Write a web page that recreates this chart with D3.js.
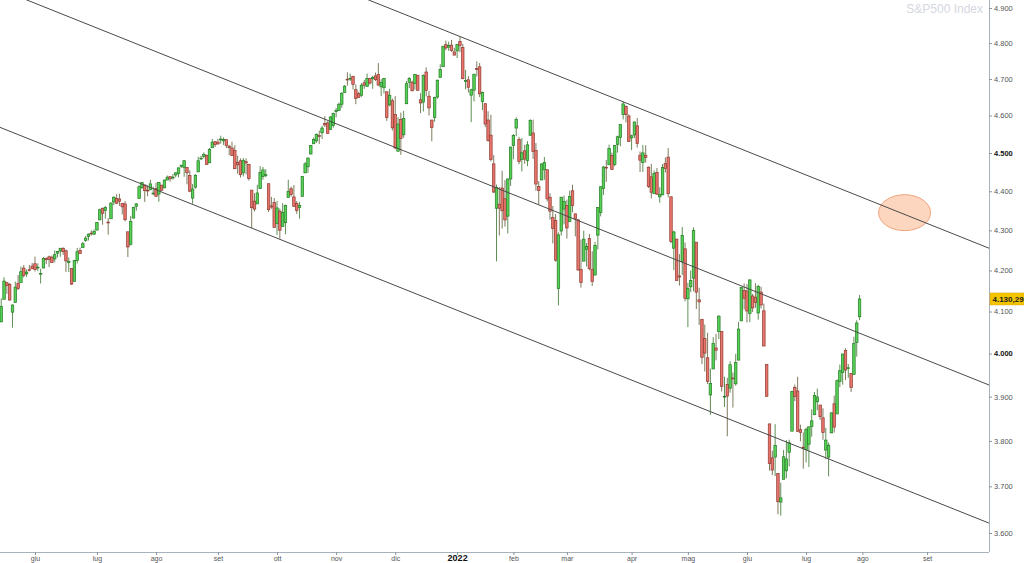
<!DOCTYPE html>
<html><head><meta charset="utf-8">
<script src="https://cdn.jsdelivr.net/npm/d3@7"></script>
<style>body{margin:0;background:#fff}svg{display:block;font-family:"Liberation Sans",Arial,sans-serif}</style>
</head><body>
<svg id="c" width="1024" height="563"></svg>
<script>
// ---- DATA (S&P500 daily candles) ----
const dates = [
"2021-05-13","2021-05-14","2021-05-17","2021-05-18","2021-05-19","2021-05-20","2021-05-21","2021-05-24","2021-05-25","2021-05-26","2021-05-27","2021-05-28",
"2021-06-01","2021-06-02","2021-06-03","2021-06-04","2021-06-07","2021-06-08","2021-06-09","2021-06-10","2021-06-11","2021-06-14","2021-06-15","2021-06-16","2021-06-17","2021-06-18","2021-06-21","2021-06-22","2021-06-23","2021-06-24","2021-06-25","2021-06-28","2021-06-29","2021-06-30",
"2021-07-01","2021-07-02","2021-07-06","2021-07-07","2021-07-08","2021-07-09","2021-07-12","2021-07-13","2021-07-14","2021-07-15","2021-07-16","2021-07-19","2021-07-20","2021-07-21","2021-07-22","2021-07-23","2021-07-26","2021-07-27","2021-07-28","2021-07-29","2021-07-30",
"2021-08-02","2021-08-03","2021-08-04","2021-08-05","2021-08-06","2021-08-09","2021-08-10","2021-08-11","2021-08-12","2021-08-13","2021-08-16","2021-08-17","2021-08-18","2021-08-19","2021-08-20","2021-08-23","2021-08-24","2021-08-25","2021-08-26","2021-08-27","2021-08-30","2021-08-31",
"2021-09-01","2021-09-02","2021-09-03","2021-09-07","2021-09-08","2021-09-09","2021-09-10","2021-09-13","2021-09-14","2021-09-15","2021-09-16","2021-09-17","2021-09-20","2021-09-21","2021-09-22","2021-09-23","2021-09-24","2021-09-27","2021-09-28","2021-09-29","2021-09-30",
"2021-10-01","2021-10-04","2021-10-05","2021-10-06","2021-10-07","2021-10-08","2021-10-11","2021-10-12","2021-10-13","2021-10-14","2021-10-15","2021-10-18","2021-10-19","2021-10-20","2021-10-21","2021-10-22","2021-10-25","2021-10-26","2021-10-27","2021-10-28","2021-10-29",
"2021-11-01","2021-11-02","2021-11-03","2021-11-04","2021-11-05","2021-11-08","2021-11-09","2021-11-10","2021-11-11","2021-11-12","2021-11-15","2021-11-16","2021-11-17","2021-11-18","2021-11-19","2021-11-22","2021-11-23","2021-11-24","2021-11-26","2021-11-29","2021-11-30",
"2021-12-01","2021-12-02","2021-12-03","2021-12-06","2021-12-07","2021-12-08","2021-12-09","2021-12-10","2021-12-13","2021-12-14","2021-12-15","2021-12-16","2021-12-17","2021-12-20","2021-12-21","2021-12-22","2021-12-23","2021-12-27","2021-12-28","2021-12-29","2021-12-30","2021-12-31",
"2022-01-03","2022-01-04","2022-01-05","2022-01-06","2022-01-07","2022-01-10","2022-01-11","2022-01-12","2022-01-13","2022-01-14","2022-01-18","2022-01-19","2022-01-20","2022-01-21","2022-01-24","2022-01-25","2022-01-26","2022-01-27","2022-01-28","2022-01-31",
"2022-02-01","2022-02-02","2022-02-03","2022-02-04","2022-02-07","2022-02-08","2022-02-09","2022-02-10","2022-02-11","2022-02-14","2022-02-15","2022-02-16","2022-02-17","2022-02-18","2022-02-22","2022-02-23","2022-02-24","2022-02-25","2022-02-28",
"2022-03-01","2022-03-02","2022-03-03","2022-03-04","2022-03-07","2022-03-08","2022-03-09","2022-03-10","2022-03-11","2022-03-14","2022-03-15","2022-03-16","2022-03-17","2022-03-18","2022-03-21","2022-03-22","2022-03-23","2022-03-24","2022-03-25","2022-03-28","2022-03-29","2022-03-30","2022-03-31",
"2022-04-01","2022-04-04","2022-04-05","2022-04-06","2022-04-07","2022-04-08","2022-04-11","2022-04-12","2022-04-13","2022-04-14","2022-04-18","2022-04-19","2022-04-20","2022-04-21","2022-04-22","2022-04-25","2022-04-26","2022-04-27","2022-04-28","2022-04-29",
"2022-05-02","2022-05-03","2022-05-04","2022-05-05","2022-05-06","2022-05-09","2022-05-10","2022-05-11","2022-05-12","2022-05-13","2022-05-16","2022-05-17","2022-05-18","2022-05-19","2022-05-20","2022-05-23","2022-05-24","2022-05-25","2022-05-26","2022-05-27","2022-05-31",
"2022-06-01","2022-06-02","2022-06-03","2022-06-06","2022-06-07","2022-06-08","2022-06-09","2022-06-10","2022-06-13","2022-06-14","2022-06-15","2022-06-16","2022-06-17","2022-06-21","2022-06-22","2022-06-23","2022-06-24","2022-06-27","2022-06-28","2022-06-29","2022-06-30",
"2022-07-01","2022-07-05","2022-07-06","2022-07-07","2022-07-08","2022-07-11","2022-07-12","2022-07-13","2022-07-14","2022-07-15","2022-07-18","2022-07-19","2022-07-20","2022-07-21","2022-07-22","2022-07-25","2022-07-26","2022-07-27","2022-07-28","2022-07-29"
];
const opens = [
4074.99,4129.58,4169.92,4165.94,4098.45,4121.97,4168.61,4170.16,4205.94,4191.59,4201.94,4210.77,
4216.52,4206.82,4191.43,4206.05,4229.34,4233.81,4232.99,4228.56,4242.90,4248.31,4255.28,4248.87,4220.37,4204.78,4173.40,4224.61,4249.27,4256.97,4274.45,4284.90,4293.21,4290.65,
4300.73,4326.60,4356.46,4351.01,4321.07,4329.38,4372.41,4381.07,4380.11,4369.02,4367.43,4296.40,4265.11,4331.13,4361.27,4381.20,4409.58,4416.38,4402.95,4403.59,4395.12,
4406.86,4392.74,4415.95,4408.86,4429.07,4437.77,4435.79,4442.18,4446.08,4464.84,4461.65,4462.12,4440.94,4382.44,4410.56,4450.29,4484.40,4490.45,4493.75,4474.10,4513.76,4529.75,
4528.80,4534.48,4532.42,4535.38,4518.09,4513.02,4506.92,4474.81,4479.33,4447.49,4477.09,4469.74,4402.95,4374.45,4367.43,4406.75,4438.04,4442.12,4419.54,4362.41,4370.67,
4317.16,4348.84,4309.87,4319.57,4383.73,4406.51,4385.44,4368.31,4358.01,4386.75,4447.69,4463.72,4497.34,4524.42,4532.24,4546.12,4553.69,4578.69,4580.22,4562.84,4572.87,
4610.62,4613.34,4630.65,4662.93,4699.26,4701.48,4707.25,4670.26,4659.39,4655.24,4689.30,4679.42,4701.50,4700.72,4708.44,4712.00,4678.48,4675.78,4664.63,4628.75,4640.25,
4602.82,4504.73,4589.49,4548.37,4631.97,4690.86,4691.00,4687.64,4710.30,4642.99,4636.46,4719.13,4652.50,4587.90,4594.96,4650.36,4703.96,4733.99,4795.49,4788.64,4794.23,4775.21,
4778.14,4804.51,4787.99,4693.39,4697.66,4655.34,4669.14,4728.59,4733.56,4637.99,4632.24,4588.03,4547.35,4471.38,4356.32,4366.64,4408.43,4380.58,4336.19,4431.79,
4519.57,4566.39,4535.41,4482.79,4505.75,4480.02,4547.00,4553.24,4506.27,4412.61,4429.28,4455.75,4456.06,4384.57,4332.74,4324.93,4155.77,4298.38,4354.17,
4363.14,4322.56,4401.31,4342.12,4327.01,4202.66,4223.10,4252.55,4279.50,4202.75,4188.82,4288.14,4345.11,4407.34,4462.40,4469.10,4493.10,4469.98,4522.91,4541.09,4602.86,4624.20,4599.02,
4540.32,4547.97,4572.45,4494.17,4474.65,4494.15,4462.64,4437.59,4394.30,4449.12,4385.63,4390.63,4472.26,4489.17,4385.83,4255.34,4278.14,4186.52,4222.58,4253.75,
4130.61,4159.78,4181.18,4270.43,4128.17,4081.27,4035.18,3990.08,3903.95,3963.90,4013.02,4052.00,4051.98,3899.00,3927.76,3919.42,3942.94,3929.59,3984.60,4077.43,4151.09,
4149.78,4095.41,4137.57,4134.72,4096.47,4147.12,4101.65,3974.39,3838.15,3762.52,3764.05,3728.18,3665.90,3715.31,3733.89,3774.71,3821.75,3920.76,3913.00,3825.09,3785.99,
3781.00,3792.61,3831.98,3858.85,3888.26,3880.94,3851.95,3779.67,3763.99,3818.00,3883.79,3860.73,3935.32,3955.47,4007.20,3965.72,3953.22,3951.43,4026.13,4087.33
];
const highs = [
4131.58,4183.13,4171.92,4169.15,4116.93,4172.80,4188.72,4209.52,4213.42,4202.61,4213.38,4218.36,
4234.12,4217.37,4204.39,4233.45,4232.34,4236.74,4237.09,4249.74,4248.38,4255.59,4257.16,4251.89,4232.29,4204.78,4226.24,4255.84,4256.60,4271.28,4286.12,4292.14,4300.52,4302.43,
4320.66,4355.43,4356.46,4361.88,4330.88,4371.60,4386.68,4392.37,4393.68,4369.02,4375.09,4296.40,4336.84,4359.70,4369.87,4415.18,4422.73,4416.38,4415.47,4429.97,4412.25,
4422.18,4423.79,4416.17,4429.76,4440.82,4439.39,4445.21,4449.44,4461.77,4468.37,4480.26,4462.12,4454.32,4418.61,4444.35,4489.88,4492.81,4501.71,4495.90,4513.33,4537.36,4531.39,
4537.11,4545.85,4541.45,4535.38,4521.79,4529.90,4520.47,4492.99,4485.68,4486.87,4485.87,4471.52,4402.95,4394.87,4416.75,4465.40,4463.12,4457.30,4419.54,4385.57,4382.55,
4375.19,4355.51,4369.23,4365.57,4429.97,4412.02,4415.88,4374.89,4372.87,4439.73,4475.82,4488.75,4520.40,4540.87,4551.44,4559.67,4572.62,4598.53,4584.57,4597.55,4608.08,
4620.34,4635.15,4663.46,4683.00,4718.50,4714.92,4708.53,4684.85,4664.55,4688.47,4697.42,4714.95,4701.50,4708.80,4717.75,4743.83,4699.39,4702.87,4664.63,4672.95,4646.02,
4652.94,4595.46,4608.03,4612.60,4694.04,4705.06,4695.26,4713.57,4710.30,4660.47,4712.60,4731.99,4666.70,4587.90,4651.14,4697.67,4740.74,4791.49,4807.02,4804.06,4808.93,4786.83,
4796.64,4818.62,4797.70,4725.01,4707.95,4673.02,4714.13,4748.83,4744.13,4665.13,4632.24,4611.55,4602.11,4494.52,4417.35,4411.01,4453.23,4428.74,4432.72,4516.89,
4550.49,4595.31,4542.88,4539.66,4521.86,4531.32,4590.03,4588.92,4526.33,4426.22,4472.77,4489.55,4456.06,4394.60,4362.12,4341.51,4294.73,4385.34,4388.84,
4378.45,4401.48,4416.78,4342.12,4327.01,4276.94,4299.40,4268.28,4291.01,4247.57,4271.05,4358.90,4412.67,4465.40,4481.75,4522.00,4501.07,4520.58,4546.03,4575.65,4637.30,4627.77,4603.07,
4548.70,4583.50,4593.45,4503.94,4521.16,4520.41,4464.35,4471.00,4453.92,4460.46,4410.31,4471.03,4488.29,4512.94,4385.83,4299.02,4278.14,4240.71,4308.45,4269.68,
4169.81,4200.10,4307.66,4270.43,4157.69,4081.27,4068.82,4049.09,3964.80,4038.88,4046.46,4090.72,4051.98,3945.96,3943.42,3981.88,3955.68,3999.33,4075.14,4158.49,4168.34,
4166.54,4177.51,4142.67,4168.78,4164.86,4160.14,4119.10,3974.39,3838.15,3778.18,3837.56,3728.18,3707.71,3779.65,3801.79,3802.58,3913.65,3927.72,3945.86,3836.50,3818.99,
3829.82,3832.19,3870.91,3910.63,3918.50,3880.94,3873.41,3829.44,3796.41,3863.62,3902.44,3939.81,3974.13,3999.29,4012.44,3975.30,3953.22,4039.56,4078.95,4140.15
];
const lows = [
4074.99,4129.58,4142.69,4125.99,4061.41,4121.97,4151.72,4170.16,4182.52,4184.11,4197.78,4203.57,
4197.59,4198.27,4167.93,4206.05,4215.66,4208.41,4218.74,4220.34,4232.25,4234.07,4238.35,4195.99,4196.05,4164.40,4173.40,4217.27,4241.43,4256.97,4271.16,4274.67,4287.04,4287.96,
4300.73,4326.60,4314.37,4329.79,4289.37,4329.38,4364.03,4366.92,4362.36,4340.70,4322.53,4233.13,4262.05,4331.13,4350.06,4381.20,4405.45,4372.51,4387.01,4403.59,4389.65,
4384.81,4373.00,4400.23,4408.86,4429.07,4424.74,4430.03,4436.42,4435.96,4460.82,4437.66,4417.83,4397.59,4367.73,4406.80,4450.29,4482.28,4485.66,4468.99,4474.10,4513.76,4515.80,
4522.02,4524.66,4521.29,4513.00,4493.95,4492.07,4457.66,4445.70,4435.46,4438.37,4443.80,4427.76,4305.91,4347.96,4367.43,4406.75,4430.27,4436.19,4346.33,4355.08,4306.24,
4288.52,4278.94,4309.87,4290.49,4383.73,4386.22,4360.59,4342.09,4329.92,4386.75,4447.69,4447.47,4496.41,4524.40,4526.89,4524.00,4537.36,4569.17,4551.66,4562.84,4567.59,
4595.06,4613.34,4621.19,4662.59,4681.32,4694.39,4670.87,4630.86,4648.31,4650.77,4672.86,4679.42,4684.41,4672.78,4694.22,4682.17,4652.66,4659.89,4585.43,4625.26,4560.00,
4510.27,4504.73,4495.12,4540.51,4631.97,4674.52,4665.98,4670.24,4667.60,4606.52,4611.22,4651.89,4600.22,4531.10,4583.16,4645.53,4703.96,4733.99,4780.04,4778.08,4775.33,4765.75,
4758.17,4774.27,4699.44,4671.26,4662.74,4582.24,4638.27,4706.71,4650.29,4614.75,4568.70,4530.20,4477.95,4395.34,4222.62,4287.11,4304.80,4309.50,4292.46,4414.02,
4483.53,4544.32,4470.39,4451.50,4471.47,4465.40,4547.00,4484.31,4401.41,4364.84,4429.28,4429.68,4373.81,4327.22,4267.11,4221.51,4114.65,4286.83,4315.12,
4279.54,4322.56,4345.56,4284.98,4199.85,4157.87,4223.10,4209.80,4200.49,4161.72,4187.90,4251.99,4335.65,4390.57,4424.30,4469.10,4455.81,4465.17,4501.07,4517.69,4589.66,4581.32,4530.41,
4507.57,4539.21,4514.17,4450.04,4450.30,4474.60,4408.38,4381.34,4392.70,4390.77,4370.30,4390.63,4448.76,4384.47,4267.62,4200.82,4175.04,4162.90,4188.63,4124.28,
4062.51,4147.08,4148.91,4106.01,4067.91,3975.48,3958.17,3928.82,3858.87,3963.90,3983.99,4033.93,3911.91,3876.58,3810.32,3909.04,3875.13,3925.03,3984.60,4077.43,4104.88,
4073.85,4074.37,4098.67,4109.18,4080.19,4107.20,4017.17,3900.16,3734.30,3724.56,3722.30,3639.77,3636.87,3715.31,3717.69,3743.52,3821.75,3889.66,3820.14,3799.02,3738.67,
3752.10,3742.06,3809.37,3858.85,3869.34,3847.22,3802.36,3759.07,3721.56,3817.18,3818.63,3860.73,3922.03,3927.64,3938.24,3943.46,3910.74,3951.43,3992.97,4079.22
];
const closes = [
4112.50,4173.85,4163.29,4127.83,4115.68,4159.12,4155.86,4197.05,4188.13,4195.99,4200.88,4204.11,
4202.04,4208.12,4192.85,4229.89,4226.52,4227.26,4219.55,4239.18,4247.44,4255.15,4246.59,4223.70,4221.86,4166.45,4224.79,4246.44,4241.84,4266.49,4280.70,4290.61,4291.80,4297.50,
4319.94,4352.34,4343.54,4358.13,4320.82,4369.55,4384.63,4369.21,4374.30,4360.03,4327.16,4258.49,4323.06,4358.69,4367.48,4411.79,4422.30,4401.46,4400.64,4419.15,4395.26,
4387.16,4423.15,4402.66,4429.10,4436.52,4432.35,4436.75,4447.70,4460.83,4468.00,4479.71,4448.08,4400.27,4405.80,4441.67,4479.53,4486.23,4496.19,4470.00,4509.37,4528.79,4522.68,
4524.09,4536.95,4535.43,4520.03,4514.07,4493.28,4458.58,4468.73,4443.05,4480.70,4473.75,4432.99,4357.73,4354.19,4395.64,4448.98,4455.48,4443.11,4352.63,4359.46,4307.54,
4357.04,4300.46,4345.72,4363.55,4399.76,4391.34,4361.19,4350.65,4363.80,4438.26,4471.37,4486.46,4519.63,4536.19,4549.78,4544.90,4566.48,4574.79,4551.68,4596.42,4605.38,
4613.67,4630.65,4660.57,4680.06,4697.53,4701.70,4685.25,4646.71,4649.27,4682.85,4682.80,4700.90,4688.67,4704.54,4697.96,4682.94,4690.70,4701.46,4594.62,4655.27,4567.00,
4513.04,4577.10,4538.43,4591.67,4686.75,4701.21,4667.45,4712.02,4668.97,4634.09,4709.85,4668.67,4620.64,4568.02,4649.23,4696.56,4725.79,4791.19,4786.35,4793.06,4778.73,4766.18,
4796.56,4793.54,4700.58,4696.05,4677.03,4670.29,4713.07,4726.35,4659.03,4662.85,4577.11,4532.76,4482.73,4397.94,4410.13,4356.45,4349.93,4326.51,4431.85,4515.55,
4546.54,4589.38,4477.44,4500.53,4483.87,4521.54,4587.18,4504.08,4418.64,4401.67,4471.07,4475.01,4380.26,4348.87,4304.76,4225.50,4288.70,4384.65,4373.94,
4306.26,4386.54,4363.49,4328.87,4201.09,4170.70,4277.88,4259.52,4204.31,4173.11,4262.45,4357.86,4411.67,4463.12,4461.18,4511.61,4456.24,4520.16,4543.06,4575.52,4631.60,4602.45,4530.41,
4545.86,4582.64,4525.12,4481.15,4500.21,4488.28,4412.53,4397.45,4446.59,4392.59,4391.69,4462.21,4459.45,4393.66,4271.78,4296.12,4175.20,4183.96,4287.50,4131.93,
4155.38,4175.48,4300.17,4146.87,4123.34,3991.24,4001.05,3935.18,3930.08,4023.89,4008.01,4088.85,3923.68,3900.79,3901.36,3973.75,3941.48,3978.73,4057.84,4158.24,4132.15,
4101.23,4176.82,4108.54,4121.43,4160.68,4115.77,4017.82,3900.86,3749.63,3735.48,3789.99,3666.77,3674.84,3764.79,3759.89,3795.73,3911.74,3900.11,3821.55,3818.83,3785.38,
3825.33,3831.39,3845.08,3902.62,3899.38,3854.43,3818.80,3801.78,3790.38,3863.16,3830.85,3936.69,3959.90,3998.95,3961.63,3966.84,3921.05,4023.61,4072.43,4130.29
];
const yTicks = [3600,3700,3800,3900,4000,4100,4200,4300,4400,4500,4600,4700,4800,4900];
const yBoldTicks = [4000,4500];
const monthStarts = ["2021-06-01","2021-07-01","2021-08-02","2021-09-01","2021-10-01","2021-11-01","2021-12-01","2022-01-03","2022-02-01","2022-03-01","2022-04-01","2022-05-02","2022-06-01","2022-07-01","2022-08-01","2022-09-01"];
const monthLabels = ["giu","lug","ago","set","ott","nov","dic","2022","feb","mar","apr","mag","giu","lug","ago","set"];
const yearLabels = ["2022"];
const futureHolidays = ["2022-09-05"];
// channel: top line through two highs, the other two parallel through one anchor each
const channelTop = [["2022-01-04",4818.62],["2022-03-29",4637.30]];
const channelMid = ["2021-10-29",4581];
const channelLow = ["2021-09-20",4305.91];
const markerPoint = ["2022-08-22",4345];
const titleText = "S&P500 Index";

// ---- LAYOUT ----
const W = 1024, H = 563, plotR = 989, plotB = 552;
const parse = d3.utcParse("%Y-%m-%d"), fmtD = d3.utcFormat("%Y-%m-%d");
const it = d3.formatLocale({decimal:",", thousands:".", grouping:[3], currency:["€",""]});
const fmtTick = it.format(",.0f"), fmtPrice = it.format(",.2f");

// trading calendar: data dates + future weekdays
const cal = dates.slice();
let d = d3.utcDay.offset(parse(dates[dates.length-1]), 1);
while (cal.length < 380) {
  const s = fmtD(d), wd = d.getUTCDay();
  if (wd !== 0 && wd !== 6 && !futureHolidays.includes(s)) cal.push(s);
  d = d3.utcDay.offset(d, 1);
}
const idxOf = s => cal.findIndex(c => c >= s);

const x = d3.scaleLinear().domain([-0.44, 351.0]).range([0, plotR]);
const y = d3.scaleLog().domain([3560, 4923]).range([plotB, 0]);

const svg = d3.select("#c");
svg.append("rect").attr("width", W).attr("height", H).attr("fill", "#fff");
svg.append("defs").append("clipPath").attr("id", "clip")
  .append("rect").attr("x", 0).attr("y", 0).attr("width", plotR).attr("height", plotB);

// title
svg.append("text").attr("x", 983).attr("y", 13).attr("text-anchor", "end")
  .attr("font-size", 12).attr("fill", "#d5d7df").text(titleText);

const plot = svg.append("g").attr("clip-path", "url(#clip)");

// marker ellipse
plot.append("ellipse")
  .attr("cx", x(idxOf(markerPoint[0]))).attr("cy", y(markerPoint[1]))
  .attr("rx", 26).attr("ry", 18)
  .attr("fill", "#fcd6bf").attr("stroke", "#f0a47c").attr("stroke-width", 1);

// candles
const candles = dates.map((s, i) => ({i, o: opens[i], h: highs[i], l: lows[i], c: closes[i]}));
const bw = 2.5;
const g = plot.selectAll("g.cdl").data(candles).join("g").attr("class", "cdl");
g.append("line")
  .attr("x1", c => x(c.i)).attr("x2", c => x(c.i))
  .attr("y1", c => y(c.h)).attr("y2", c => y(c.l))
  .attr("stroke", c => c.c >= c.o ? "#5f8f55" : "#7f7a5c").attr("stroke-width", 1);
g.append("rect")
  .attr("x", c => x(c.i) - bw/2).attr("width", bw)
  .attr("y", c => y(Math.max(c.o, c.c)))
  .attr("height", c => Math.max(0.8, Math.abs(y(c.o) - y(c.c))))
  .attr("fill", c => c.c >= c.o ? "#55d155" : "#e8746b")
  .attr("stroke", c => c.c >= c.o ? "#247a24" : "#8e3a30").attr("stroke-width", 0.7);

// channel lines
const i1 = idxOf(channelTop[0][0]), i2 = idxOf(channelTop[1][0]);
const k = (Math.log(channelTop[1][1]) - Math.log(channelTop[0][1])) / (i2 - i1);
const chan = [[i1, channelTop[0][1]], [idxOf(channelMid[0]), channelMid[1]], [idxOf(channelLow[0]), channelLow[1]]];
const xd = x.domain();
const ln = d3.line().x(p => x(p[0])).y(p => y(p[1]));
chan.forEach(([ia, pa]) => {
  const pts = xd.map(i => [i, pa * Math.exp(k * (i - ia))]);
  plot.append("path").attr("d", ln(pts)).attr("fill", "none")
    .attr("stroke", "#4a4a4a").attr("stroke-width", 1);
});

// right axis
const ya = svg.append("g").attr("transform", `translate(${plotR},0)`)
  .call(d3.axisRight(y).tickValues(yTicks).tickSize(3).tickPadding(2).tickFormat(fmtTick));
ya.select(".domain").attr("stroke", "#a8b2bc").attr("d", `M0.5,0V${plotB}`);
ya.selectAll(".tick line").attr("stroke", "#8a949e");
ya.selectAll(".tick text").attr("font-size", 7.5).attr("font-family", "Liberation Sans, Arial")
  .attr("fill", v => yBoldTicks.includes(v) ? "#111" : "#555")
  .attr("font-weight", v => yBoldTicks.includes(v) ? "bold" : "normal");

// bottom axis
const monthIdx = monthStarts.map(idxOf);
const isYear = i => yearLabels.includes(monthLabels[i]);
const xa = svg.append("g").attr("transform", `translate(0,${plotB})`)
  .call(d3.axisBottom(x).tickValues(monthIdx).tickSize(3).tickPadding(1)
    .tickFormat((v, i) => monthLabels[i]));
xa.select(".domain").attr("stroke", "#a8b2bc").attr("d", `M0,0.5H${plotR}`);
xa.selectAll(".tick line").attr("stroke", "#8a949e");
xa.selectAll(".tick text").attr("font-family", "Liberation Sans, Arial")
  .attr("font-size", (v, i) => isYear(i) ? 9 : 7)
  .attr("dy", (v, i) => isYear(i) ? "0.55em" : "0.71em")
  .attr("font-weight", (v, i) => isYear(i) ? "bold" : "normal")
  .attr("fill", (v, i) => isYear(i) ? "#111" : "#555");

// last price tag
const lp = closes[closes.length - 1];
const tag = svg.append("g").attr("transform", `translate(${plotR + 1},${y(lp)})`);
tag.append("rect").attr("x", 0).attr("y", -6).attr("width", 34).attr("height", 12)
  .attr("fill", "#f3c400").attr("stroke", "#d9a900").attr("stroke-width", 0.5);
tag.append("text").attr("x", 2.5).attr("y", 3).attr("font-size", 8).attr("font-weight", "bold")
  .attr("font-family", "Liberation Sans, Arial").attr("fill", "#222").text(fmtPrice(lp));
</script>
</body></html>
